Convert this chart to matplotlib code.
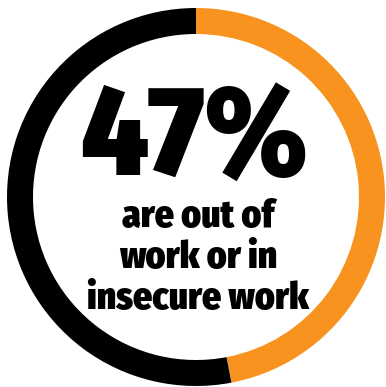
import matplotlib
matplotlib.use("Agg")
import matplotlib.pyplot as plt

# share of people out of work or in insecure work
labels = ["Out of work / insecure", "Other"]
shares = [47, 53]
colors = ["#F7931E", "#000000"]

headline = "47%"
caption_lines = ["are out of", "work or in", "insecure work"]

W, H = 386, 387
fig = plt.figure(figsize=(W / 100, H / 100), dpi=100)
ax = fig.add_axes([0, 0, 1, 1])

ax.pie(shares, colors=colors, startangle=90, counterclock=False,
       center=(196, 190), radius=189,
       wedgeprops=dict(width=26, linewidth=0))
ax.set_xlim(0, W)
ax.set_ylim(0, H)
ax.axis("off")

font = ["Fira Sans Condensed", "Roboto Condensed", "DejaVu Sans"]
ax.text(194, H - 175, headline, ha="center", va="baseline",
        fontsize=92, fontweight="black", family=font, color="black")

baselines = [227, 268, 309]
for line, yb in zip(caption_lines, baselines):
    ax.text(198, H - yb, line, ha="center", va="baseline",
            fontsize=27, fontweight="black", family=font, color="black")

fig.savefig("out.png", dpi=100)
plt.close(fig)
